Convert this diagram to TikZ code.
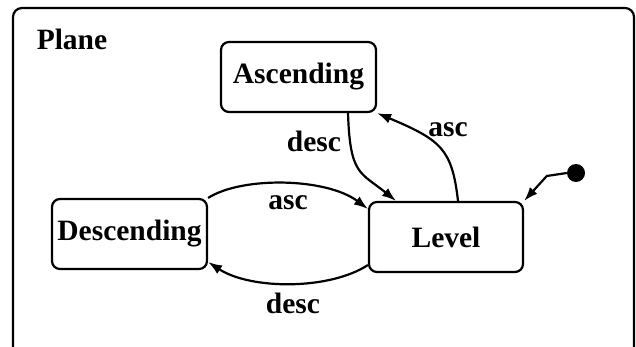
\documentclass[tikz,border=0pt]{standalone}
\usepackage{fontspec}
\setmainfont{Liberation Serif}
\usetikzlibrary{arrows.meta}
\begin{document}
\begin{tikzpicture}[x=1pt,y=-1pt,
  every node/.style={font=\bfseries\fontsize{29.5}{32}\selectfont},
  state/.style={draw,line width=2.2pt,rounded corners=8pt,minimum width=155pt,minimum height=70pt,inner sep=0pt},
  trans/.style={line width=2.2pt,-{Latex[length=14pt,width=10pt]}},
  lbl/.style={inner sep=0pt}]
\useasboundingbox (0,0) rectangle (636,347);
\draw[line width=2.2pt,rounded corners=9pt] (13,8) rectangle (634,356);
\node[lbl] (plane) at (72,39) {Plane};
\node[state] (A) at (298.5,77) {Ascending};
\node[state] (D) at (129.5,234) {Descending};
\node[state,minimum width=154pt] (L) at (446,237) {Level};
\node[circle,fill,inner sep=0pt,minimum size=18pt] (init) at (576,173) {};
% desc: Ascending -> Level
\draw[trans] ([xshift=49.5pt]A.south) .. controls +(2,62) and +(-36,-29) .. ([xshift=-50pt]L.north);
% asc: Level -> Ascending
\draw[trans] ([xshift=12pt]L.north) .. controls +(-6,-52) and +(64,27) .. (A.south east);
% asc: Descending -> Level
\draw[trans] (D.north east) .. controls +(35,-22) and +(-41,-31) .. ([yshift=28pt]L.west);
% desc: Level -> Descending
\draw[trans] ([yshift=-28pt]L.west) .. controls +(-38,25) and +(43,28) .. ([yshift=-28pt]D.east);
% initial
\draw[trans] (init.west) -- ++(-20,3) -- (L.north east);
\node[lbl] (l1) at (314,141) {desc};
\node[lbl] (l2) at (448,130) {asc};
\node[lbl] (l3) at (288,203) {asc};
\node[lbl] (l4) at (293,303) {desc};
\end{tikzpicture}
\end{document}
